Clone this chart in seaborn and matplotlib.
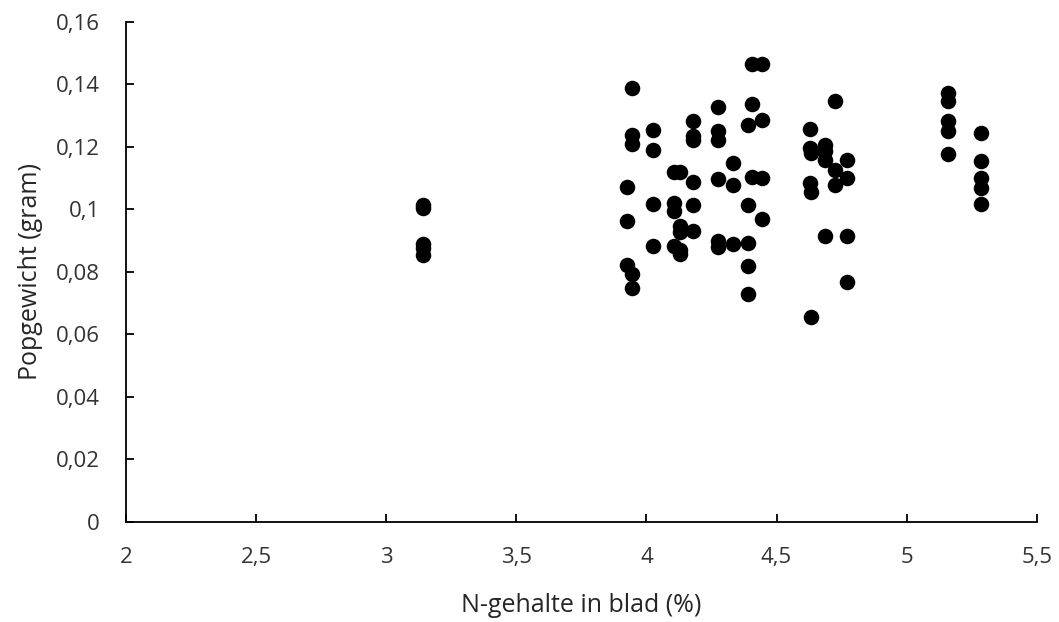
import numpy as np
import pandas as pd
import matplotlib
matplotlib.use("Agg")
import matplotlib.pyplot as plt
import seaborn as sns

# N-gehalte in blad (%) and popgewicht (gram)
n_gehalte = [
    3.14, 3.14, 3.14, 3.14, 3.14,
    3.946, 3.946, 3.946, 3.924, 3.924, 3.924, 3.946, 3.946,
    4.026, 4.026, 4.026, 4.026,
    4.105, 4.13, 4.105, 4.105, 4.13, 4.13, 4.105, 4.13, 4.13,
    4.177, 4.177, 4.177, 4.177, 4.177, 4.177,
    4.276, 4.276, 4.276, 4.276, 4.276, 4.276,
    4.333, 4.333, 4.333,
    4.405, 4.443, 4.405, 4.39, 4.443, 4.405, 4.443, 4.39, 4.443, 4.39, 4.39, 4.39,
    4.628, 4.628, 4.634, 4.628, 4.634, 4.634,
    4.686, 4.686, 4.686, 4.686,
    4.724, 4.724, 4.724,
    4.771, 4.771, 4.771, 4.771,
    5.159, 5.159, 5.159, 5.159, 5.159,
    5.285, 5.285, 5.285, 5.285, 5.285,
]
popgewicht = [
    0.1015, 0.1005, 0.089, 0.0875, 0.0855,
    0.1387, 0.1238, 0.1209, 0.1071, 0.0964, 0.0822, 0.0794, 0.0748,
    0.1254, 0.119, 0.1018, 0.0884,
    0.1118, 0.1118, 0.102, 0.0995, 0.0945, 0.0926, 0.0883, 0.087, 0.0858,
    0.1283, 0.1235, 0.1222, 0.1086, 0.1014, 0.0931,
    0.1326, 0.1251, 0.1222, 0.1097, 0.0897, 0.0879,
    0.1148, 0.1078, 0.0888,
    0.1466, 0.1466, 0.1338, 0.127, 0.1286, 0.1104, 0.110, 0.1014, 0.097, 0.0893, 0.082, 0.073,
    0.1256, 0.1196, 0.118, 0.1084, 0.1054, 0.0654,
    0.1206, 0.1185, 0.1158, 0.0913,
    0.1348, 0.1126, 0.1078,
    0.1158, 0.110, 0.0913, 0.0769,
    0.1372, 0.1345, 0.1281, 0.1252, 0.1178,
    0.1244, 0.1153, 0.110, 0.1068, 0.1018,
]

df = pd.DataFrame({"N-gehalte": n_gehalte, "Popgewicht": popgewicht})

sns.set_style("white")
plt.rcParams['font.family'] = ['Open Sans', 'DejaVu Sans']

fig = plt.figure(figsize=(10.59, 6.22), dpi=100)
ax = fig.add_axes([0.119, 0.161, 0.86, 0.804])

sns.scatterplot(data=df, x="N-gehalte", y="Popgewicht", color="black",
                s=125, edgecolor="black", linewidth=0, ax=ax, legend=False)

ax.set_xlim(2, 5.5)
ax.set_ylim(0, 0.16)
xticks = np.arange(2, 5.51, 0.5)
yticks = np.arange(0, 0.161, 0.02)
ax.set_xticks(xticks)
ax.set_yticks(yticks)
ax.set_xticklabels([f"{v:g}".replace(".", ",") for v in xticks])
ax.set_yticklabels([f"{v:.2f}".rstrip("0").rstrip(".").replace(".", ",") if v else "0" for v in yticks])

ax.set_xlabel("N-gehalte in blad (%)", fontsize=18, color="#262626", labelpad=18)
ax.set_ylabel("Popgewicht (gram)", fontsize=18, color="#262626", labelpad=9)
ax.tick_params(axis="both", direction="in", length=6, width=1.3, color="black",
               labelsize=16, labelcolor="#333333", bottom=True, left=True)
ax.tick_params(axis="x", pad=18)
ax.tick_params(axis="y", pad=19)

sns.despine(ax=ax)
for side in ["left", "bottom"]:
    ax.spines[side].set_color("black")
    ax.spines[side].set_linewidth(1.3)

fig.savefig("out.png", dpi=100)
